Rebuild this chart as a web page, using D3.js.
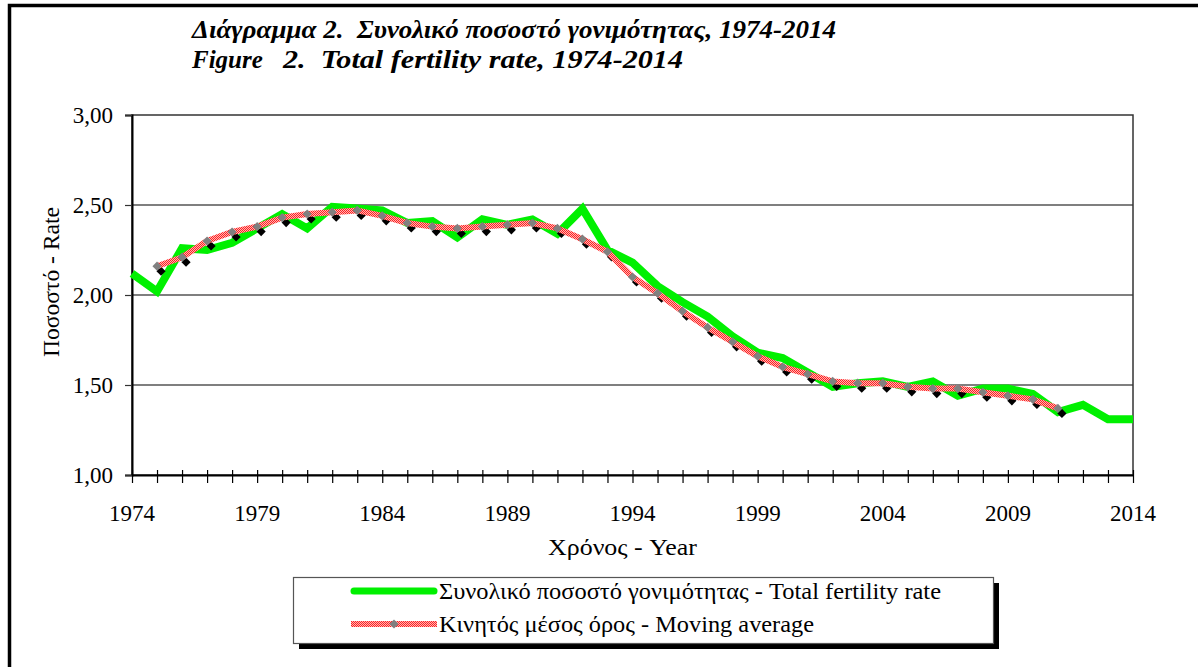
<!DOCTYPE html>
<html>
<head>
<meta charset="utf-8">
<script src="https://cdn.jsdelivr.net/npm/d3@7"></script>
<style>
  html, body { margin: 0; padding: 0; background: #fff; }
  svg { display: block; }
  svg text { font-family: "Liberation Serif", "Times New Roman", serif; fill: #000; }
</style>
</head>
<body>
<svg id="vis" width="1198" height="667"></svg>
<script>
// total fertility rate, 1974-2014
const years = [1974, 1975, 1976, 1977, 1978, 1979, 1980, 1981, 1982, 1983,
  1984, 1985, 1986, 1987, 1988, 1989, 1990, 1991, 1992, 1993,
  1994, 1995, 1996, 1997, 1998, 1999, 2000, 2001, 2002, 2003,
  2004, 2005, 2006, 2007, 2008, 2009, 2010, 2011, 2012, 2013, 2014];
const tfr = [2.12, 2.02, 2.26, 2.25, 2.29, 2.37, 2.45, 2.37, 2.49, 2.48,
  2.47, 2.40, 2.41, 2.32, 2.42, 2.39, 2.42, 2.34, 2.48, 2.25,
  2.18, 2.05, 1.96, 1.88, 1.77, 1.68, 1.65, 1.57, 1.49, 1.51,
  1.52, 1.49, 1.52, 1.44, 1.48, 1.48, 1.45, 1.35, 1.39, 1.31, 1.31];

// moving average (1975-2011)
const maYears = [1975, 1976, 1977, 1978, 1979, 1980, 1981, 1982, 1983, 1984,
  1985, 1986, 1987, 1988, 1989, 1990, 1991, 1992, 1993, 1994,
  1995, 1996, 1997, 1998, 1999, 2000, 2001, 2002, 2003, 2004,
  2005, 2006, 2007, 2008, 2009, 2010, 2011];
const maValues = [2.16, 2.21, 2.30, 2.35, 2.38, 2.43, 2.45, 2.46, 2.47, 2.44,
  2.40, 2.38, 2.37, 2.38, 2.39, 2.40, 2.37, 2.31, 2.24, 2.10,
  2.01, 1.91, 1.82, 1.74, 1.66, 1.60, 1.56, 1.52, 1.51, 1.51,
  1.49, 1.48, 1.48, 1.46, 1.44, 1.42, 1.37];

const yTicks = [1.0, 1.5, 2.0, 2.5, 3.0];
const xLabelYears = [1974, 1979, 1984, 1989, 1994, 1999, 2004, 2009, 2014];

const titleLine1 = "Διάγραμμα 2.  Συνολικό ποσοστό γονιμότητας, 1974-2014",
      titleLine2 = ["Figure", "2.  Total fertility rate, 1974-2014"];
const xTitle = "Χρόνος - Year",
      yTitle = "Ποσοστό - Rate",
      legendLabels = ["Συνολικό ποσοστό γονιμότητας - Total fertility rate",
                      "Κινητός μέσος όρος - Moving average"];

const svg = d3.select("#vis");

let plot = { left: 132, right: 1133, top: 115, bottom: 475 },
    labelSize = 23;

const x = d3.scaleLinear().domain([1974, 2014]).range([plot.left, plot.right]);
const y = d3.scaleLinear().domain([1, 3]).range([plot.bottom, plot.top]);

// hatched red pattern for moving average line
const defs = svg.append("defs");
const pat = defs.append("pattern")
    .attr("id", "hatch")
    .attr("patternUnits", "userSpaceOnUse")
    .attr("width", 2).attr("height", 2);
pat.append("rect").attr("width", 2).attr("height", 2).attr("fill", "#ffb4b4");
pat.append("rect").attr("width", 1).attr("height", 1).attr("fill", "#ff2020");
pat.append("rect").attr("x", 1).attr("y", 1).attr("width", 1).attr("height", 1).attr("fill", "#ff2020");

// outer frame (cut off on the right and bottom)
svg.append("rect")
    .attr("x", 9.5).attr("y", 5.5)
    .attr("width", 1300).attr("height", 800)
    .attr("fill", "none")
    .attr("stroke", "#000")
    .attr("stroke-width", 3.5);

// title
const title = svg.append("g")
    .attr("font-weight", "bold")
    .attr("font-style", "italic")
    .attr("font-size", 25);
title.append("text").attr("x", 192).attr("y", 38)
    .attr("xml:space", "preserve")
    .attr("textLength", 644).attr("lengthAdjust", "spacingAndGlyphs")
    .text(titleLine1);
title.append("text").attr("x", 192).attr("y", 68)
    .text(titleLine2[0]);
title.append("text").attr("x", 283).attr("y", 68)
    .attr("xml:space", "preserve")
    .attr("textLength", 400).attr("lengthAdjust", "spacingAndGlyphs")
    .text(titleLine2[1]);

// gridlines
svg.append("g")
  .selectAll("line")
  .data(yTicks.filter(d => d > 1 && d < 3))
  .join("line")
    .attr("x1", plot.left).attr("x2", plot.right)
    .attr("y1", d => y(d)).attr("y2", d => y(d))
    .attr("stroke", "#555")
    .attr("stroke-width", 1.3);

// plot border
svg.append("rect")
    .attr("x", plot.left).attr("y", plot.top)
    .attr("width", plot.right - plot.left).attr("height", plot.bottom - plot.top)
    .attr("fill", "none")
    .attr("stroke", "#333")
    .attr("stroke-width", 1.5);

// y axis
const yAxis = svg.append("g")
    .attr("transform", `translate(${plot.left},0)`)
    .call(d3.axisLeft(y).tickValues(yTicks).tickSize(7).tickPadding(12)
      .tickFormat(d => d3.format(".2f")(d).replace(".", ",")));
yAxis.attr("font-family", null).attr("font-size", null);
yAxis.select(".domain").attr("stroke", "#000").attr("stroke-width", 2);
yAxis.selectAll(".tick line").attr("stroke", "#333").attr("stroke-width", 1.2);
yAxis.selectAll(".tick text")
    .attr("font-size", labelSize).attr("dy", "0.34em");

// x axis (ticks cross the axis line)
const xAxis = svg.append("g")
    .attr("transform", `translate(0,${plot.bottom})`)
    .call(d3.axisBottom(x).tickValues(years).tickSize(8).tickSizeOuter(0)
      .tickFormat(() => ""));
xAxis.select(".domain").attr("stroke", "#000").attr("stroke-width", 2);
xAxis.selectAll(".tick line").attr("y1", -5).attr("stroke", "#000").attr("stroke-width", 1.2);

svg.append("g")
  .selectAll("text")
  .data(xLabelYears)
  .join("text")
    .attr("x", d => x(d))
    .attr("y", 521)
    .attr("text-anchor", "middle")
    .attr("font-size", labelSize)
    .text(d => d);

svg.append("text")
    .attr("x", 548)
    .attr("y", 555)
    .attr("font-size", labelSize)
    .attr("textLength", 149).attr("lengthAdjust", "spacingAndGlyphs")
    .text(xTitle);

svg.append("text")
    .attr("transform", `translate(59,357) rotate(-90)`)
    .attr("font-size", labelSize)
    .attr("textLength", 150).attr("lengthAdjust", "spacingAndGlyphs")
    .text(yTitle);

// series
const line = d3.line().x(d => x(d[0])).y(d => y(d[1]));
const tfrData = years.map((yr, i) => [yr, tfr[i]]);
const maData = maYears.map((yr, i) => [yr, maValues[i]]);

svg.append("path")
    .datum(tfrData)
    .attr("d", line)
    .attr("fill", "none")
    .attr("stroke", "#00f000")
    .attr("stroke-width", 8)
    .attr("stroke-linejoin", "miter");

const marker = d3.symbol().type(d3.symbolSquare).size(42);

// marker shadows
svg.append("g")
  .selectAll("path")
  .data(maData)
  .join("path")
    .attr("d", marker)
    .attr("transform", d => `translate(${x(d[0]) + 4},${y(d[1]) + 5}) rotate(45)`)
    .attr("fill", "#000");

svg.append("path")
    .datum(maData)
    .attr("d", line)
    .attr("fill", "none")
    .attr("stroke", "url(#hatch)")
    .attr("stroke-width", 6);

svg.append("g")
  .selectAll("path")
  .data(maData)
  .join("path")
    .attr("d", marker)
    .attr("transform", d => `translate(${x(d[0])},${y(d[1])}) rotate(45)`)
    .attr("fill", "#808080");

// legend
const lg = svg.append("g");
lg.append("rect")
    .attr("x", 299).attr("y", 583).attr("width", 700).attr("height", 66)
    .attr("fill", "#000");
lg.append("rect")
    .attr("x", 293.5).attr("y", 577.5).attr("width", 700).attr("height", 66)
    .attr("fill", "#fff")
    .attr("stroke", "#555")
    .attr("stroke-width", 1.2);

lg.append("line")
    .attr("x1", 354).attr("x2", 434).attr("y1", 591).attr("y2", 591)
    .attr("stroke", "#00f000").attr("stroke-width", 7).attr("stroke-linecap", "round");
lg.append("line")
    .attr("x1", 351).attr("x2", 437).attr("y1", 624).attr("y2", 624)
    .attr("stroke", "url(#hatch)").attr("stroke-width", 6);
lg.append("path")
    .attr("d", marker)
    .attr("transform", "translate(394,624) rotate(45)")
    .attr("fill", "#808080");

const legendWidths = [502, 375];
legendLabels.forEach((t, i) => {
  lg.append("text")
      .attr("x", 439).attr("y", 599 + i * 33)
      .attr("font-size", 24)
      .attr("textLength", legendWidths[i]).attr("lengthAdjust", "spacingAndGlyphs")
      .text(t);
});
</script>
</body>
</html>
